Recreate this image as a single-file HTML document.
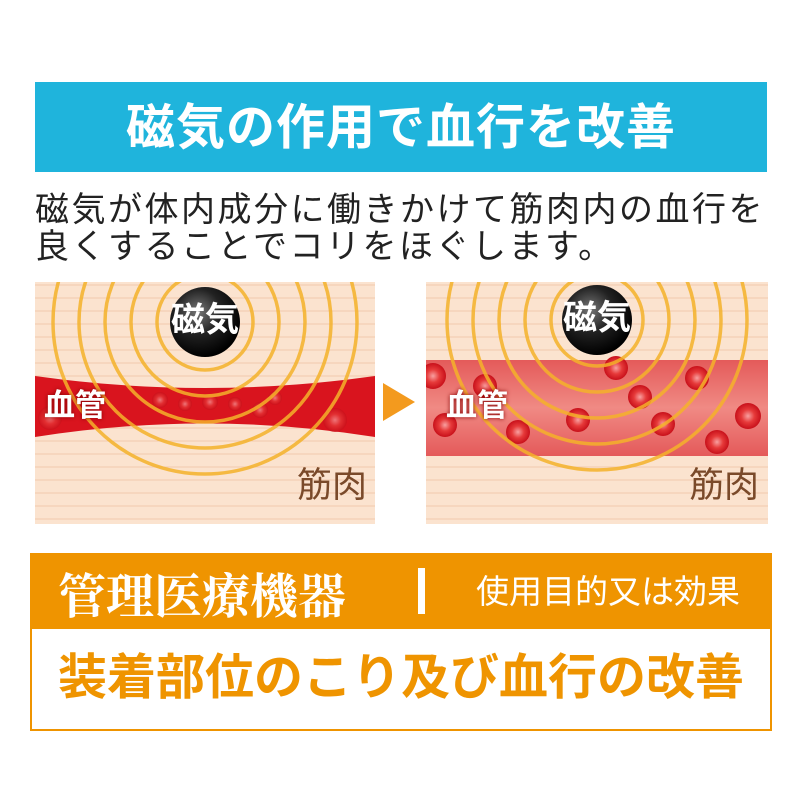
<!DOCTYPE html>
<html><head><meta charset="utf-8"><style>
body{margin:0;width:800px;height:800px;background:#fff;position:relative;overflow:hidden;font-family:"Liberation Sans","Noto Sans CJK JP",sans-serif}
.a{position:absolute;white-space:nowrap}
</style></head><body>
<div class="a" style="left:35px;top:82px;width:732px;height:90px;background:#1fb4dc"></div>
<div class="a" style="left:35px;top:97px;width:732px;text-align:center;color:#fff;font-size:49px;font-weight:bold;line-height:62px;letter-spacing:1px">磁気の作用で血行を改善</div>
<div class="a" style="left:35px;top:192px;font-size:34px;line-height:37px;color:#222;letter-spacing:2.5px">磁気が体内成分に働きかけて筋肉内の血行を<br>良くすることでコリをほぐします。</div>

<svg class="a" style="left:0;top:0" width="800" height="800">
<defs>
<pattern id="ln" width="10" height="13" patternUnits="userSpaceOnUse"><rect width="10" height="13" fill="#fbe3cf"/><line x1="0" y1="12" x2="10" y2="12" stroke="#f0c9ac" stroke-width="1"/></pattern>
<radialGradient id="ball" cx="40%" cy="35%" r="65%"><stop offset="0" stop-color="#777"/><stop offset="0.5" stop-color="#222"/><stop offset="1" stop-color="#000"/></radialGradient>
<radialGradient id="cell" cx="50%" cy="50%" r="50%"><stop offset="0" stop-color="#f8a0a0"/><stop offset="0.5" stop-color="#e63a3a"/><stop offset="1" stop-color="#c8101a"/></radialGradient>
<linearGradient id="v2" x1="0" y1="0" x2="0" y2="1"><stop offset="0" stop-color="#e45a5a"/><stop offset="0.5" stop-color="#f08a84"/><stop offset="1" stop-color="#e45a5a"/></linearGradient>
<clipPath id="c1"><rect x="35" y="282" width="340" height="242"/></clipPath>
<clipPath id="c2"><rect x="426" y="282" width="342" height="242"/></clipPath>
</defs>
<g clip-path="url(#c1)">
<rect x="35" y="282" width="340" height="242" fill="url(#ln)"/>
<path d="M35 376 Q205 400 375 376 L375 437 Q205 410 35 437Z" fill="#d9141e"/>
<g fill="url(#cell)" opacity="0.7"><circle cx="50" cy="418" r="12"/><circle cx="160" cy="400" r="8"/><circle cx="185" cy="404" r="7"/><circle cx="210" cy="402" r="8"/><circle cx="235" cy="404" r="7"/><circle cx="260" cy="410" r="8"/><circle cx="275" cy="398" r="7"/><circle cx="335" cy="420" r="12"/></g>
<g fill="none" stroke="#f5b22a" stroke-width="3.5" opacity="0.85"><circle cx="205" cy="322" r="48"/><circle cx="205" cy="322" r="74"/><circle cx="205" cy="322" r="100"/><circle cx="205" cy="322" r="126"/><circle cx="205" cy="322" r="152"/></g>
<circle cx="205" cy="322" r="35" fill="url(#ball)"/>
</g>
<polygon points="383,383 415,402 383,421" fill="#f39a1e"/>
<g clip-path="url(#c2)">
<rect x="426" y="282" width="342" height="242" fill="url(#ln)"/>
<rect x="426" y="360" width="342" height="96" fill="url(#v2)"/>
<g fill="url(#cell)"><circle cx="433" cy="376" r="13"/><circle cx="485" cy="386" r="12"/><circle cx="445" cy="425" r="12"/><circle cx="518" cy="432" r="12"/><circle cx="578" cy="420" r="12"/><circle cx="616" cy="368" r="12"/><circle cx="640" cy="397" r="12"/><circle cx="663" cy="424" r="12"/><circle cx="697" cy="378" r="12"/><circle cx="717" cy="442" r="12"/><circle cx="748" cy="416" r="13"/></g>
<g fill="none" stroke="#f5b22a" stroke-width="3.5" opacity="0.85"><circle cx="597" cy="320" r="46"/><circle cx="597" cy="320" r="72"/><circle cx="597" cy="320" r="98"/><circle cx="597" cy="320" r="124"/><circle cx="597" cy="320" r="150"/></g>
<circle cx="597" cy="320" r="35" fill="url(#ball)"/>
</g>
</svg>
<div class="a" style="left:171px;top:300px;color:#fff;font-size:34px;font-weight:bold;line-height:40px">磁気</div>
<div class="a" style="left:563px;top:298px;color:#fff;font-size:34px;font-weight:bold;line-height:40px">磁気</div>
<div class="a" style="left:44px;top:388px;color:#fff;font-size:31px;font-weight:bold;line-height:36px;text-shadow:0 0 4px #800">血管</div>
<div class="a" style="left:446px;top:388px;color:#fff;font-size:31px;font-weight:bold;line-height:36px;text-shadow:0 0 4px #800">血管</div>
<div class="a" style="left:297px;top:466px;color:#7a4a2a;font-size:35px;line-height:40px">筋肉</div>
<div class="a" style="left:689px;top:466px;color:#7a4a2a;font-size:35px;line-height:40px">筋肉</div>

<div class="a" style="left:30px;top:553px;width:738px;height:174px;border:2px solid #ef9400;background:#fff"></div>
<div class="a" style="left:30px;top:553px;width:742px;height:76px;background:#ef9400"></div>
<div class="a" style="left:58px;top:563px;color:#fff;font-size:48px;font-weight:bold;font-family:'Noto Serif CJK SC',serif;line-height:60px">管理医療機器</div>
<div class="a" style="left:418px;top:568px;width:7px;height:46px;background:#fff"></div>
<div class="a" style="left:476px;top:572px;color:#fff;font-size:33px;line-height:40px">使用目的又は効果</div>
<div class="a" style="left:30px;top:646px;width:742px;text-align:center;color:#ef9400;font-size:49px;font-weight:bold;line-height:64px">装着部位のこり及び血行の改善</div>
</body></html>
